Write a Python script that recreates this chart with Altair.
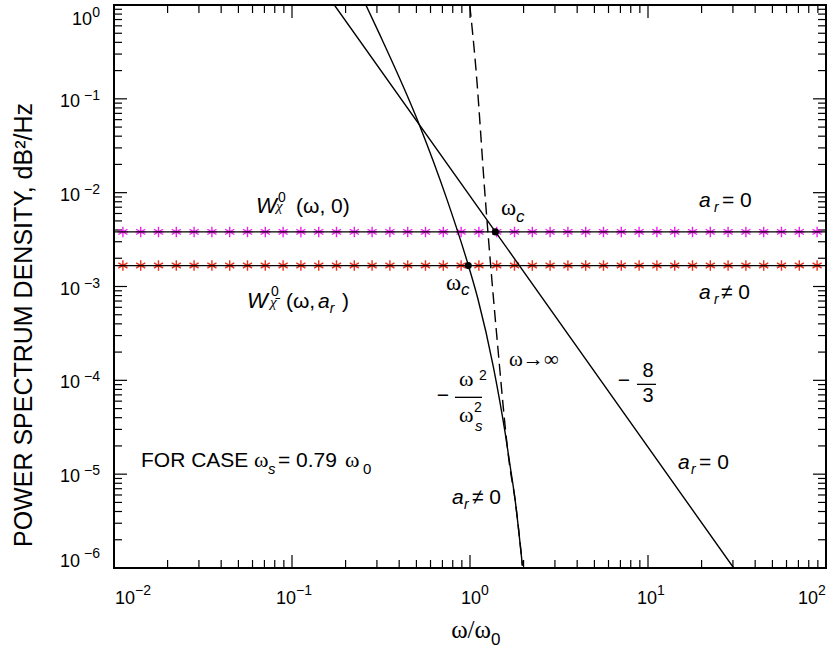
import altair as alt
import pandas as pd

W, H = 712, 563

# ---------------- data ----------------
level_chi = 3.82e-3      # W_chi^0(w, 0)      (a_r = 0)
level_chibar = 1.67e-3   # W_chibar^0(w, a_r) (a_r != 0)
plateau_x = [0.01, 100.0]

star_x = [0.01122, 0.01413, 0.01778, 0.02239, 0.02818, 0.03548, 0.04467, 0.05623, 0.07079, 0.08913,
          0.1122, 0.1413, 0.1778, 0.2239, 0.2818, 0.3548, 0.4467, 0.5623, 0.7079, 0.8913,
          1.122, 1.413, 1.778, 2.239, 2.818, 3.548, 4.467, 5.623, 7.079, 8.913,
          11.22, 14.13, 17.78, 22.39, 28.18, 35.48, 44.67, 56.23, 70.79, 89.13]

# -8/3 power law (a_r = 0)
slope_x = [0.173, 1.39, 30.3]
slope_y = [1.0, 3.82e-3, 1.0e-6]

# steep curve (a_r != 0)
steep_x = [0.26, 0.308, 0.517, 0.743, 0.978, 1.11, 1.35, 1.575, 1.68, 1.79, 1.97]
steep_y = [1.0, 0.504, 0.054, 8.43e-3, 1.69e-3, 7.27e-4, 1.42e-4, 2.77e-5, 1.23e-5, 5.42e-6, 1.06e-6]

# dashed asymptote (w -> inf)
dash_x = [0.997, 1.077, 1.22, 1.42, 1.67, 1.79, 1.97]
dash_y = [1.0, 0.221, 8.43e-3, 2.73e-4, 1.23e-5, 5.42e-6, 1.06e-6]

# omega_c points
wc_x = [1.39, 0.978]
wc_y = [3.82e-3, 1.67e-3]

# axis ticks / labels
x_decades = [-2, -1, 0, 1, 2]
y_decades = [-6, -5, -4, -3, -2, -1, 0]
minor_mult = [2, 3, 4, 5, 6, 7, 8, 9]
exp_text = {-6: "−6", -5: "−5", -4: "−4", -3: "−3", -2: "−2", -1: "−1", 0: "0", 1: "1", 2: "2"}

x_title = "ω/ω"
x_title_sub = "0"
y_title = "POWER SPECTRUM DENSITY, dB²/Hz"

# annotation pieces: text, x, y, size, font key
ann_text = ["W", "0", "χ", "(ω, 0)",
            "W", "0", "χ\u0304", "(ω,", "a", "r", ")",
            "ω", "c", "ω", "c",
            "a", "r", "= 0",
            "a", "r", "≠ 0",
            "ω→∞",
            "−", "8", "3",
            "−", "ω", "2", "ω", "2", "s",
            "a", "r", "= 0",
            "a", "r", "≠ 0",
            "FOR CASE", "ω", "s", "= 0.79", "ω", "0"]
ann_x = [0.0628, 0.0834, 0.0813, 0.1053,
         0.0559, 0.0762, 0.0752, 0.0925, 0.140, 0.163, 0.191,
         1.493, 1.813, 0.733, 0.890,
         19.35, 23.5, 26.05,
         19.35, 23.5, 25.7,
         1.656,
         7.33, 10.0, 10.0,
         0.705, 0.867, 1.124, 0.867, 1.053, 1.067,
         14.74, 17.45, 19.35,
         0.792, 0.925, 1.026,
         0.01418, 0.0611, 0.0733, 0.0834, 0.1985, 0.2505]
ann_y = [6.12e-3, 8.02e-3, 6.44e-3, 6.12e-3,
         5.83e-4, 7.83e-4, 5.98e-4, 5.83e-4, 5.83e-4, 5.16e-4, 5.83e-4,
         5.83e-3, 4.91e-3, 9.29e-4, 8.02e-4,
         7.10e-3, 6.28e-3, 7.10e-3,
         7.27e-4, 6.44e-4, 7.27e-4,
         1.41e-4,
         8.43e-5, 1.076e-4, 5.83e-5,
         5.83e-5, 8.63e-5, 1.0e-4, 3.57e-5, 4.57e-5, 2.87e-5,
         1.13e-5, 1.0e-5, 1.13e-5,
         4.8e-6, 4.24e-6, 4.8e-6,
         1.19e-5, 1.19e-5, 1.0e-5, 1.19e-5, 1.19e-5, 1.0e-5]
ann_size = [22, 14, 15, 21,
            22, 14, 15, 21, 21, 14, 21,
            23, 17, 23, 17,
            21, 14, 21,
            21, 14, 21,
            21,
            21, 20, 20,
            21, 22, 14, 22, 14, 15,
            21, 14, 21,
            21, 14, 21,
            21, 22, 15, 21, 22, 15]
ann_font = ["sansi", "sans", "serifi", "sans",
            "sansi", "sans", "serifi", "sans", "sansi", "sansi", "sans",
            "serif", "sansi", "serif", "sansi",
            "sansi", "sansi", "sans",
            "sansi", "sansi", "sans",
            "serif",
            "sansc", "sansc", "sansc",
            "sansc", "serif", "sans", "serif", "sans", "sansi",
            "sansi", "sansi", "sans",
            "sansi", "sansi", "sans",
            "sans", "serif", "sansi", "sans", "serif", "sans"]

# fraction bars
bar_x = [8.67, 0.823]
bar_x2 = [11.09, 1.168]
bar_y = [9.06e-5, 6.59e-5]

# ---------------- chart ----------------
SANS = "Liberation Sans, Arial, DejaVu Sans"
SERIF = "Liberation Serif, Times New Roman, DejaVu Serif"

xs = alt.Scale(type="log", domain=[0.01, 100], nice=False, zero=False)
ys = alt.Scale(type="log", domain=[1e-6, 1.0], nice=False, zero=False)


def X(f="x"):
    return alt.X(f"{f}:Q", scale=xs, axis=None)


def Y(f="y"):
    return alt.Y(f"{f}:Q", scale=ys, axis=None)


layers = []

# ticks (inward, all four sides)
xmaj = pd.DataFrame({"x": [10.0 ** k for k in x_decades]})
xmin = pd.DataFrame({"x": [m * 10.0 ** k for k in x_decades[:-1] for m in minor_mult]})
ymaj = pd.DataFrame({"y": [10.0 ** k for k in y_decades]})
ymin = pd.DataFrame({"y": [m * 10.0 ** k for k in y_decades[:-1] for m in minor_mult]})
for df, ln in [(xmaj, 13), (xmin, 8)]:
    layers.append(alt.Chart(df).mark_rule(color="black", strokeWidth=1.2).encode(
        x=X(), y=alt.value(H), y2=alt.value(H - ln)))
    layers.append(alt.Chart(df).mark_rule(color="black", strokeWidth=1.2).encode(
        x=X(), y=alt.value(0), y2=alt.value(ln)))
for df, ln in [(ymaj, 13), (ymin, 8)]:
    layers.append(alt.Chart(df).mark_rule(color="black", strokeWidth=1.2).encode(
        y=Y(), x=alt.value(0), x2=alt.value(ln)))
    layers.append(alt.Chart(df).mark_rule(color="black", strokeWidth=1.2).encode(
        y=Y(), x=alt.value(W), x2=alt.value(W - ln)))

# x tick labels: "10" + superscript exponent (per-label horizontal shift as in the reference)
x_shift = {-2: 21, -1: 4, 0: 11, 1: 9, 2: -8}
for k in x_decades:
    ldf = pd.DataFrame({"x": [10.0 ** k], "t": ["10"], "e": [exp_text[k]]})
    d = x_shift[k]
    layers.append(alt.Chart(ldf).mark_text(align="right", baseline="alphabetic", font=SANS, fontSize=18,
                                           color="black", dx=d).encode(x=X(), y=alt.value(599), text="t:N"))
    layers.append(alt.Chart(ldf).mark_text(align="left", baseline="alphabetic", font=SANS, fontSize=14,
                                           color="black", dx=d).encode(x=X(), y=alt.value(590), text="e:N"))

# y tick labels
for k in y_decades:
    ldf = pd.DataFrame({"y": [10.0 ** k], "t": ["10"], "e": [exp_text[k]]})
    if k == 0:
        d10, de = 20, 12
    elif k == y_decades[0]:
        d10, de = -1, -10
    else:
        d10, de = 8, 1
    ten_x = -22 if k == 0 else -34
    layers.append(alt.Chart(ldf).mark_text(align="right", baseline="alphabetic", font=SANS, fontSize=18,
                                           color="black", dy=d10).encode(y=Y(), x=alt.value(ten_x), text="t:N"))
    layers.append(alt.Chart(ldf).mark_text(align="right", baseline="alphabetic", font=SANS, fontSize=14,
                                           color="black", dy=de).encode(y=Y(), x=alt.value(-14), text="e:N"))

# axis titles
tdf = pd.DataFrame({"a": [x_title], "b": [x_title_sub], "c": [y_title]})
layers.append(alt.Chart(tdf).mark_text(align="right", baseline="alphabetic", font=SERIF, fontSize=25,
                                       color="black").encode(x=alt.value(377), y=alt.value(633), text="a:N"))
layers.append(alt.Chart(tdf).mark_text(align="left", baseline="alphabetic", font=SANS, fontSize=17,
                                       color="black").encode(x=alt.value(377), y=alt.value(640), text="b:N"))
layers.append(alt.Chart(tdf).mark_text(align="center", baseline="middle", font=SANS, fontSize=25,
                                       angle=270, color="black").encode(x=alt.value(-90), y=alt.value(320),
                                                                         text="c:N"))

# stars + plateau lines
star_path = "M0,-1L0,1M-0.87,-0.5L0.87,0.5M-0.87,0.5L0.87,-0.5M-1,0L1,0"
for lvl, col in [(level_chi, "#f020f0"), (level_chibar, "#e8301e")]:
    sdf = pd.DataFrame({"x": star_x, "y": [lvl] * len(star_x)})
    layers.append(alt.Chart(sdf).mark_point(shape=star_path, filled=False, size=110,
                                            strokeWidth=1.4, color=col, opacity=1).encode(x=X(), y=Y()))
    pdf = pd.DataFrame({"x": plateau_x, "y": [lvl, lvl]})
    layers.append(alt.Chart(pdf).mark_line(color="black", strokeWidth=1.2).encode(x=X(), y=Y()))

# curves
layers.append(alt.Chart(pd.DataFrame({"x": slope_x, "y": slope_y})).mark_line(
    color="black", strokeWidth=1.4, clip=True).encode(x=X(), y=Y()))
layers.append(alt.Chart(pd.DataFrame({"x": steep_x, "y": steep_y})).mark_line(
    color="black", strokeWidth=1.4, clip=True, interpolate="monotone").encode(x=X(), y=Y()))
layers.append(alt.Chart(pd.DataFrame({"x": dash_x, "y": dash_y})).mark_line(
    color="black", strokeWidth=1.4, clip=True, strokeDash=[12, 6], interpolate="monotone").encode(x=X(), y=Y()))

# omega_c dots
layers.append(alt.Chart(pd.DataFrame({"x": wc_x, "y": wc_y})).mark_point(
    shape="circle", filled=True, size=50, color="black", opacity=1).encode(x=X(), y=Y()))

# fraction bars
layers.append(alt.Chart(pd.DataFrame({"x": bar_x, "x2": bar_x2, "y": bar_y})).mark_rule(
    color="black", strokeWidth=1.3).encode(x=X(), x2="x2:Q", y=Y()))

# annotations
ann = pd.DataFrame({"t": ann_text, "x": ann_x, "y": ann_y, "s": ann_size, "f": ann_font})
styles = {
    "sans": dict(font=SANS, fontStyle="normal", align="left"),
    "sansi": dict(font=SANS, fontStyle="italic", align="left"),
    "serif": dict(font=SERIF, fontStyle="normal", align="left"),
    "serifi": dict(font=SERIF, fontStyle="italic", align="left"),
    "sansc": dict(font=SANS, fontStyle="normal", align="center"),
}
for key, st in styles.items():
    sub = ann[ann["f"] == key]
    layers.append(alt.Chart(sub).mark_text(baseline="alphabetic", color="black", **st).encode(
        x=X(), y=Y(), text="t:N", size=alt.Size("s:Q", scale=None)))

chart = alt.layer(*layers).properties(
    width=W, height=H,
    padding={"left": 114, "top": 5, "right": 7, "bottom": 83},
    autosize=alt.AutoSizeParams(type="none"),
    background="white",
).configure_view(stroke="black", strokeWidth=2)

chart.save("out.html", embed_options={"renderer": "svg", "actions": False})
